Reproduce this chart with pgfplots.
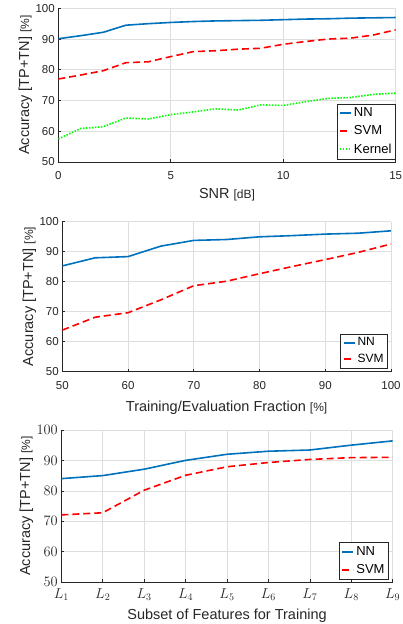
\documentclass[border=0pt]{standalone}
\usepackage{fontspec}
\setmainfont{Liberation Sans}
\usepackage{pgfplots}
\pgfplotsset{compat=1.18}
\definecolor{nnblue}{rgb}{0,0.447,0.741}
\definecolor{axgray}{gray}{0.15}
\definecolor{gridgray}{gray}{0.87}
\definecolor{kgreen}{rgb}{0,1,0}
\newcommand{\unitb}[1]{{\fontsize{12}{13}\selectfont[#1]}}
\pgfplotsset{
  mystyle/.style={
    scale only axis,
    axis x line*=bottom, axis y line*=left,
    axis line style={axgray, line width=0.6pt, -},
    tick align=inside,
    major tick length=3pt,
    tick style={axgray, line width=0.6pt},
    grid=major,
    major grid style={gridgray, line width=0.6pt},
    ymin=50, ymax=100, ytick={50,60,...,100},
    ticklabel style={text=axgray},
    ylabel style={at={(axis description cs:0,0.5)}, anchor=center, text=axgray, font=\fontsize{14.5}{16}\selectfont},
    xlabel style={at={(axis description cs:0.5,0)}, anchor=center, text=axgray, font=\fontsize{14.5}{16}\selectfont},
    legend cell align=left,
    legend style={draw=axgray, fill=white, inner sep=2pt, text=black, row sep=3.5pt},
    legend image code/.code={\draw[#1,mark=none,line width=2pt] (0pt,0pt) -- (11pt,0pt);},
  },
  nn/.style={draw=nnblue, line width=1.6pt},
  svm/.style={draw=red, line width=1.6pt, dash pattern=on 7pt off 4pt},
  kern/.style={draw=kgreen, line width=1.6pt, dash pattern=on 1.5pt off 1.5pt},
}
\begin{document}
\begin{tikzpicture}
\path[use as bounding box] (0,0) rectangle (402pt,-624pt);
% ---------- Plot 1 ----------
\begin{axis}[mystyle,
  at={(58.3pt,-162pt)}, anchor=south west,
  width=337.4pt, height=153.7pt,
  xmin=0, xmax=15, xtick={0,5,10,15},
  ticklabel style={font=\fontsize{11.5}{13}\selectfont},
  xticklabel style={yshift=-6pt},
  /pgf/number format/assume math mode=true,
  ylabel={Accuracy [TP+TN] \unitb{\%}},
  ylabel style={yshift=33pt},
  xlabel={SNR \unitb{dB}},
  xlabel style={yshift=-33pt},
  legend style={at={(axis description cs:1,0.02)}, anchor=south east, font=\fontsize{13}{14}\selectfont},
]
\addplot[nn] coordinates {(0,90.1) (1,91.1) (2,92.2) (3,94.5) (4,95.0) (5,95.4) (6,95.7) (7,95.9) (8,96.0) (9,96.1) (10,96.3) (11,96.5) (12,96.6) (13,96.8) (14,96.9) (15,97.0)};
\addlegendentry{NN}
\addplot[svm] coordinates {(0,77.0) (1,78.3) (2,79.7) (3,82.3) (4,82.6) (5,84.3) (6,85.9) (7,86.2) (8,86.7) (9,87.0) (10,88.3) (11,89.2) (12,90.0) (13,90.3) (14,91.3) (15,93.0)};
\addlegendentry{SVM}
\addplot[kern] coordinates {(0,57.5) (1,60.9) (2,61.5) (3,64.3) (4,64.0) (5,65.4) (6,66.3) (7,67.3) (8,66.9) (9,68.6) (10,68.4) (11,69.6) (12,70.7) (13,71.0) (14,72.0) (15,72.4)};
\addlegendentry{Kernel}
\end{axis}
% ---------- Plot 2 ----------
\begin{axis}[mystyle,
  at={(62.3pt,-371.5pt)}, anchor=south west,
  width=328.7pt, height=150pt,
  xmin=50, xmax=100, xtick={50,60,...,100},
  ticklabel style={font=\fontsize{11.5}{13}\selectfont},
  xticklabel style={yshift=-6pt},
  /pgf/number format/assume math mode=true,
  ylabel={Accuracy [TP+TN] \unitb{\%}},
  ylabel style={yshift=33pt},
  xlabel={Training/Evaluation Fraction \unitb{\%}},
  xlabel style={yshift=-36pt},
  legend style={at={(axis description cs:0.99,0.023)}, anchor=south east, font=\fontsize{12}{13}\selectfont, row sep=2.5pt},
]
\addplot[nn] coordinates {(50,85.2) (55,87.9) (60,88.3) (65,91.8) (70,93.7) (75,94.0) (80,94.9) (85,95.3) (90,95.8) (95,96.1) (100,96.9)};
\addlegendentry{NN}
\addplot[svm] coordinates {(50,63.8) (55,68.1) (60,69.6) (65,73.9) (70,78.6) (75,80.1) (80,82.6) (85,85.0) (90,87.3) (95,89.7) (100,92.5)};
\addlegendentry{SVM}
\end{axis}
% ---------- Plot 3 ----------
\begin{axis}[mystyle,
  at={(61.3pt,-582.2pt)}, anchor=south west,
  width=331.4pt, height=152.3pt,
  xmin=1, xmax=9, xtick={1,...,9},
  xticklabels={$L_1$,$L_2$,$L_3$,$L_4$,$L_5$,$L_6$,$L_7$,$L_8$,$L_9$},
  ticklabel style={font=\fontsize{14.5}{16}\selectfont},
  xticklabel style={yshift=-3pt},
  ylabel={Accuracy [TP+TN] \unitb{\%}},
  ylabel style={yshift=35pt},
  xlabel={Subset of Features for Training},
  xlabel style={yshift=-34pt},
  legend style={at={(axis description cs:0.988,0.02)}, anchor=south east, font=\fontsize{13}{14}\selectfont},
]
\addplot[nn] coordinates {(1,84.0) (2,85.0) (3,87.1) (4,90.0) (5,92.0) (6,93.0) (7,93.4) (8,95.0) (9,96.4)};
\addlegendentry{NN}
\addplot[svm] coordinates {(1,72.1) (2,72.8) (3,80.2) (4,85.1) (5,87.9) (6,89.3) (7,90.3) (8,90.9) (9,91.0)};
\addlegendentry{SVM}
\end{axis}
\end{tikzpicture}
\end{document}
